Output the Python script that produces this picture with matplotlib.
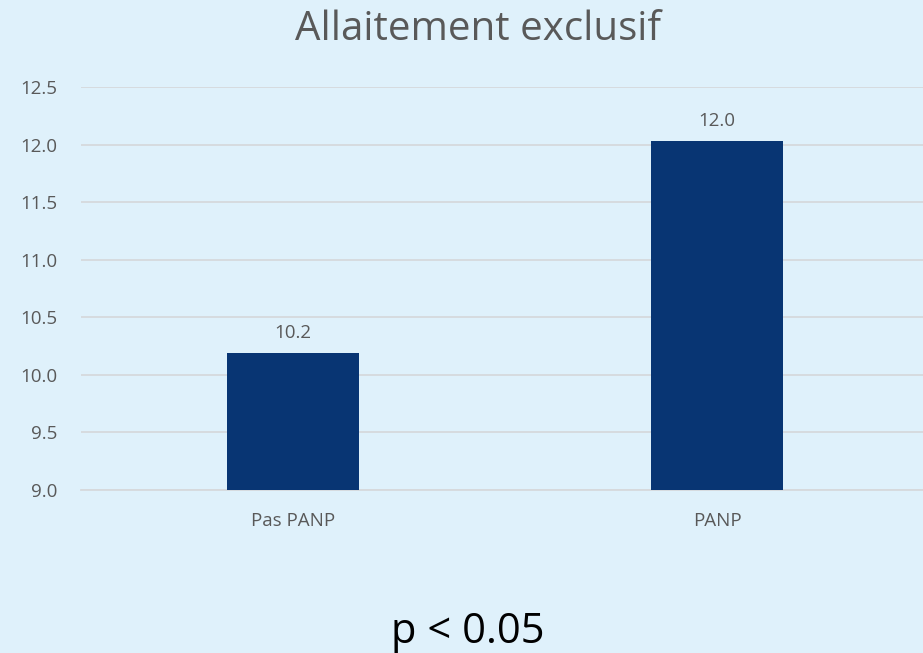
import matplotlib
matplotlib.use("Agg")
import matplotlib.pyplot as plt

categories = ["Pas PANP", "PANP"]
values = [10.19, 12.03]
value_labels = ["10.2", "12.0"]
yticks = [9.0, 9.5, 10.0, 10.5, 11.0, 11.5, 12.0, 12.5]
title = "Allaitement exclusif"
note = "p < 0.05"

plt.rcParams['font.family'] = ['Open Sans', 'DejaVu Sans']
bg = "#DFF1FB"
bar_color = "#083573"
text_gray = "#595959"

fig = plt.figure(figsize=(9.23, 6.53), dpi=100, facecolor=bg)
ax = fig.add_axes([81/923, 1 - 490/653, 848/923, (490-87)/653])
ax.set_facecolor(bg)

x = list(range(len(categories)))
ax.bar(x, values, width=0.311, color=bar_color, zorder=3)
ax.set_xlim(-0.5, 1.5)
ax.set_ylim(9.0, 12.5)
ax.set_yticks(yticks)
ax.set_yticklabels([f"{t:.1f}" for t in yticks])
ax.set_xticks(x)
ax.set_xticklabels(categories)
ax.grid(axis='y', color="#D6D9DC", linewidth=1.3, zorder=0)
for s in ["top", "right", "left"]:
    ax.spines[s].set_visible(False)
ax.spines["bottom"].set_color("#D6D9DC")
ax.spines["bottom"].set_linewidth(1.3)
ax.tick_params(axis='both', length=0, labelsize=13.5, labelcolor=text_gray)
ax.tick_params(axis='y', pad=17)
ax.tick_params(axis='x', pad=16)

for xi, v, lab in zip(x, values, value_labels):
    ax.annotate(lab, (xi, v), xytext=(0, 8), textcoords="offset points",
                ha="center", va="bottom", fontsize=13.5, color=text_gray)

fig.text(478/923, 1 - 30/653, title, ha="center", va="center",
         fontsize=29, color=text_gray)
fig.text(468/923, 1 - 632/653, note, ha="center", va="center",
         fontsize=30, color="black")

fig.savefig("out.png", dpi=100, facecolor=bg)
